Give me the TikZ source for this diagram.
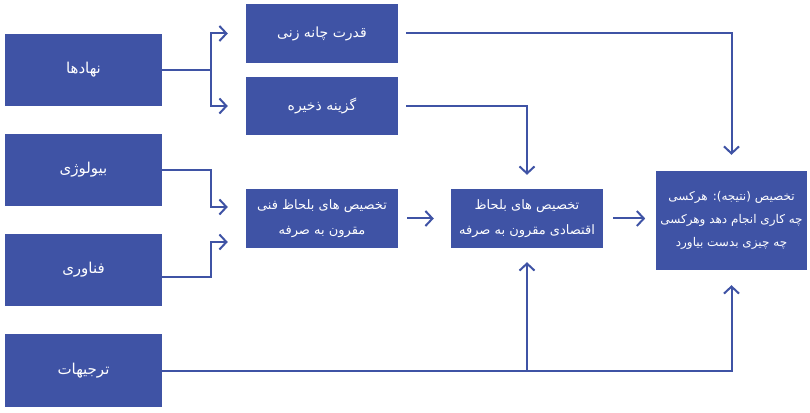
\documentclass[tikz,border=0pt]{standalone}
\usepackage{fontspec}
\newfontfamily\arabicfont[Script=Arabic]{DejaVu Sans}
\TeXXeTstate=1
\usetikzlibrary{arrows.meta}
\definecolor{boxblue}{RGB}{63,83,165}
\newcommand{\rl}[1]{\beginR #1\endR}

\begin{document}
\begin{tikzpicture}[x=1pt, y=1pt,
        box/.style={fill=boxblue, text=white, inner sep=0pt, align=center,
            font=\arabicfont\fontsize{13}{25}\selectfont},
        leftbox/.style={box, minimum width=157pt, minimum height=72pt,
            font=\arabicfont\fontsize{15}{25}\selectfont},
        midbox/.style={box, minimum width=152pt, minimum height=59pt},
        arr/.style={draw=boxblue, line width=2pt,
            -{Straight Barb[length=7pt,width=15pt]}}]
        \useasboundingbox (0,0) rectangle (810,412);
        % left column
        \foreach \name/\y/\txt in {nahadha/342/نهادها, biology/242/بیولوژی,
                fanavari/142/فناوری, tarjihat/41.5/ترجیهات}
            \node [leftbox] (\name) at (83.5,\y) {\rl{\txt}};
        % middle boxes
        \node [midbox, font=\arabicfont\fontsize{14}{25}\selectfont] (qodrat) at (322,378.5) {\rl{قدرت چانه زنی}};
        \node [midbox, minimum height=58pt, font=\arabicfont\fontsize{14}{25}\selectfont] (gozine) at (322,306) {\rl{گزینه ذخیره}};
        \node [midbox] (fanni) at (322,193.5)
            {\rl{تخصیص های بلحاظ فنی}\\\rl{مقرون به صرفه}};
        \node [midbox] (eghtesadi) at (527,193.5)
            {\rl{تخصیص های بلحاظ}\\\rl{اقتصادی مقرون به صرفه}};
        \node [box, minimum width=151pt, minimum height=99pt,
                font=\arabicfont\fontsize{12}{23}\selectfont] (result) at (731.5,191.5)
            {\rl{تخصیص (نتیجه): هرکسی}\\\rl{چه کاری انجام دهد وهرکسی}\\\rl{چه چیزی بدست بیاورد}};
        % connectors
        \draw [arr] (nahadha.east) -- ++(49,0) |- ([xshift=-18pt]qodrat.west);
        \draw [arr] (nahadha.east) -- ++(49,0) |- ([xshift=-18pt]gozine.west);
        \draw [arr] (biology.east) -- ++(49,0) |- ([xshift=-18pt,yshift=11.5pt]fanni.west);
        \draw [arr] ([yshift=-7pt]fanavari.east) -- ++(49,0) |- ([xshift=-18pt,yshift=-23.5pt]fanni.west);
        \draw [arr] ([xshift=9pt]fanni.east) -- ([xshift=-17pt]eghtesadi.west);
        \draw [arr] ([xshift=10pt]eghtesadi.east) -- ++(32,0);
        \draw [arr] ([xshift=8pt]qodrat.east) -| ([yshift=16pt]result.north);
        \draw [arr] ([xshift=8pt]gozine.east) -| ([yshift=14pt]eghtesadi.north);
        \draw [arr] (tarjihat.east) -| ([yshift=-15pt]result.south);
        \draw [arr] (tarjihat.east -| eghtesadi.south) -- ([yshift=-14pt]eghtesadi.south);
    \end{tikzpicture}
\end{document}
